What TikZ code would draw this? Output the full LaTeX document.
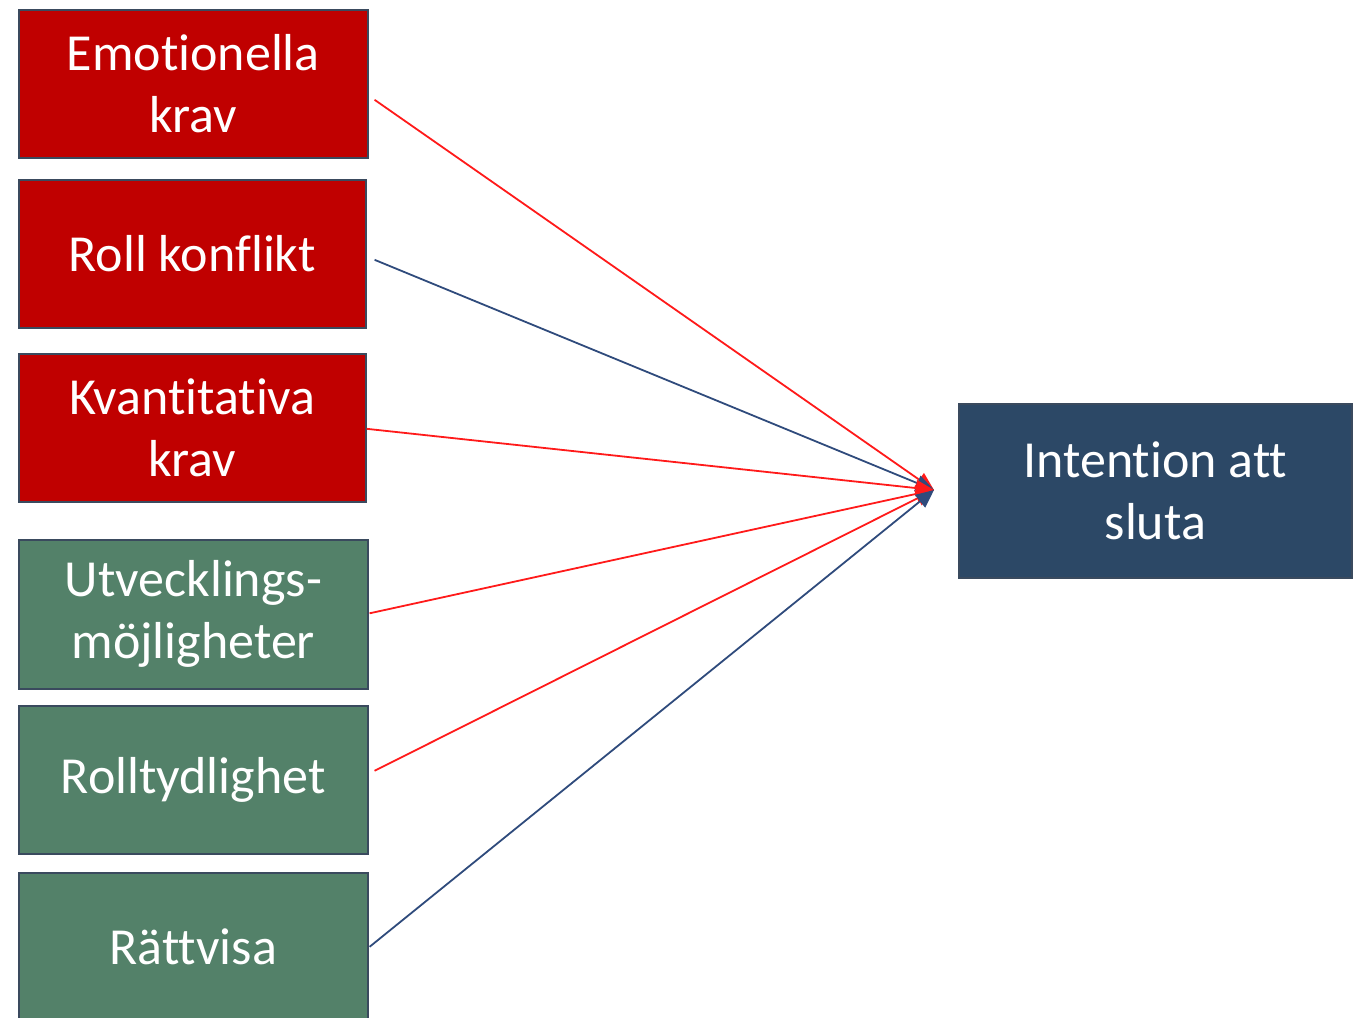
\documentclass[tikz,border=0pt]{standalone}
\usepackage{fontspec}
\setmainfont{Carlito}[Ligatures=NoCommon]
\usetikzlibrary{arrows.meta}
\definecolor{boxred}{HTML}{C00000}
\definecolor{boxgreen}{HTML}{538169}
\definecolor{boxblue}{HTML}{2C4866}
\definecolor{edge}{HTML}{3A4A5E}
\definecolor{linered}{HTML}{FF1A1A}
\definecolor{lineblue}{HTML}{2F4B7C}
\begin{document}
\begin{tikzpicture}[x=1pt,y=1pt,
  box/.style={draw=edge, line width=1.6, anchor=north west, inner sep=0,
    text=white, align=center, font=\fontsize{52}{62}\selectfont},
  conn/.style={line width=1.8, -{Triangle[length=18, width=16]}}]
\useasboundingbox (0,0) rectangle (1353,-1018);
\node[box, fill=boxred, minimum width=349, minimum height=148] (e1) at (18,-9) {Emotionella\\krav};
\node[box, fill=boxred, minimum width=347, minimum height=148] (e2) at (18,-179) {Roll konflikt};
\node[box, fill=boxred, minimum width=347, minimum height=148] (e3) at (18,-353) {Kvantitativa\\krav};
\node[box, fill=boxgreen, minimum width=349, minimum height=149] (e4) at (18,-539) {Utvecklings-\\möjligheter};
\node[box, fill=boxgreen, minimum width=349, minimum height=148] (e5) at (18,-705) {Rolltydlighet};
\node[box, fill=boxgreen, minimum width=349, minimum height=148] (e6) at (18,-872) {Rättvisa};
\node[box, fill=boxblue, minimum width=393, minimum height=174] (t) at (958,-403) {Intention att\\sluta};
\coordinate (tip) at (934,-490);
\draw[conn, draw=linered, fill=linered] ([shift={(6,-16)}]e1.east) -- (tip);
\draw[conn, draw=lineblue, fill=lineblue] ([shift={(8,-6)}]e2.east) -- (tip);
\draw[conn, draw=linered, fill=linered] ([shift={(0,-1)}]e3.east) -- (tip);
\draw[conn, draw=linered, fill=linered] ([shift={(1,1)}]e4.east) -- (tip);
\draw[conn, draw=linered, fill=linered] ([shift={(6,9)}]e5.east) -- (tip);
\draw[conn, draw=lineblue, fill=lineblue] ([shift={(1,0)}]e6.east) -- (tip);
\end{tikzpicture}
\end{document}
